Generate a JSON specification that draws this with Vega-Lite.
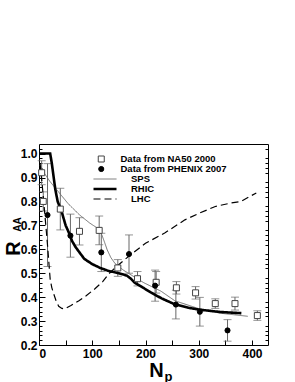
{
  "$schema": "https://vega.github.io/schema/vega-lite/v6.json",
  "width": 229,
  "height": 201,
  "autosize": {"type": "none"},
  "padding": {"left": 39, "top": 144, "right": 27, "bottom": 37},
  "config": {
    "font": "Liberation Sans",
    "view": {"stroke": "black", "strokeWidth": 1},
    "axis": {"domain": false, "grid": false, "tickColor": "black", "labelColor": "black", "titleColor": "black", "labelFont": "Liberation Sans", "titleFont": "Liberation Sans", "labelFontWeight": "bold", "titleFontWeight": "bold", "labelFontSize": 12},
    "legend": {"labelFont": "Liberation Sans", "labelFontWeight": "bold", "labelFontSize": 9.5, "labelColor": "black", "padding": 0, "rowPadding": 0, "clipHeight": 10, "title": null}
  },
  "datasets": {
    "pts": [
      {"series": "Data from NA50 2000", "Np": 5, "RAA": 0.92, "lo": 0.87, "hi": 0.97},
      {"series": "Data from NA50 2000", "Np": 8, "RAA": 0.8, "lo": 0.76, "hi": 0.84},
      {"series": "Data from NA50 2000", "Np": 40, "RAA": 0.768, "lo": 0.681, "hi": 0.855},
      {"series": "Data from NA50 2000", "Np": 76, "RAA": 0.675, "lo": 0.618, "hi": 0.732},
      {"series": "Data from NA50 2000", "Np": 113, "RAA": 0.679, "lo": 0.619, "hi": 0.739},
      {"series": "Data from NA50 2000", "Np": 148, "RAA": 0.522, "lo": 0.487, "hi": 0.557},
      {"series": "Data from NA50 2000", "Np": 185, "RAA": 0.477, "lo": 0.447, "hi": 0.507},
      {"series": "Data from NA50 2000", "Np": 220, "RAA": 0.462, "lo": 0.417, "hi": 0.507},
      {"series": "Data from NA50 2000", "Np": 258, "RAA": 0.439, "lo": 0.413, "hi": 0.465},
      {"series": "Data from NA50 2000", "Np": 294, "RAA": 0.418, "lo": 0.392, "hi": 0.444},
      {"series": "Data from NA50 2000", "Np": 331, "RAA": 0.373, "lo": 0.353, "hi": 0.393},
      {"series": "Data from NA50 2000", "Np": 368, "RAA": 0.373, "lo": 0.346, "hi": 0.4},
      {"series": "Data from NA50 2000", "Np": 410, "RAA": 0.323, "lo": 0.303, "hi": 0.343},
      {"series": "Data from PHENIX 2007", "Np": 16, "RAA": 0.743, "lo": 0.528, "hi": 0.958},
      {"series": "Data from PHENIX 2007", "Np": 59, "RAA": 0.657, "lo": 0.567, "hi": 0.747},
      {"series": "Data from PHENIX 2007", "Np": 117, "RAA": 0.587, "lo": 0.507, "hi": 0.667},
      {"series": "Data from PHENIX 2007", "Np": 169, "RAA": 0.58, "lo": 0.5, "hi": 0.66},
      {"series": "Data from PHENIX 2007", "Np": 218, "RAA": 0.448, "lo": 0.383, "hi": 0.513},
      {"series": "Data from PHENIX 2007", "Np": 257, "RAA": 0.369, "lo": 0.309, "hi": 0.429},
      {"series": "Data from PHENIX 2007", "Np": 302, "RAA": 0.339, "lo": 0.279, "hi": 0.399},
      {"series": "Data from PHENIX 2007", "Np": 354, "RAA": 0.261, "lo": 0.216, "hi": 0.306}
    ],
    "curves": [
      {"model": "SPS", "Np": 2, "RAA": 0.95},
      {"model": "SPS", "Np": 10, "RAA": 0.918},
      {"model": "SPS", "Np": 20, "RAA": 0.885},
      {"model": "SPS", "Np": 38, "RAA": 0.836},
      {"model": "SPS", "Np": 55, "RAA": 0.79},
      {"model": "SPS", "Np": 76, "RAA": 0.744},
      {"model": "SPS", "Np": 95, "RAA": 0.71},
      {"model": "SPS", "Np": 112, "RAA": 0.685},
      {"model": "SPS", "Np": 118, "RAA": 0.66},
      {"model": "SPS", "Np": 123, "RAA": 0.63},
      {"model": "SPS", "Np": 128, "RAA": 0.598},
      {"model": "SPS", "Np": 135, "RAA": 0.565},
      {"model": "SPS", "Np": 143, "RAA": 0.54},
      {"model": "SPS", "Np": 159, "RAA": 0.512},
      {"model": "SPS", "Np": 175, "RAA": 0.49},
      {"model": "SPS", "Np": 197, "RAA": 0.46},
      {"model": "SPS", "Np": 229, "RAA": 0.425},
      {"model": "SPS", "Np": 255, "RAA": 0.385},
      {"model": "SPS", "Np": 300, "RAA": 0.352},
      {"model": "SPS", "Np": 340, "RAA": 0.333},
      {"model": "SPS", "Np": 392, "RAA": 0.32},
      {"model": "RHIC", "Np": 0, "RAA": 1.0},
      {"model": "RHIC", "Np": 21, "RAA": 1.0},
      {"model": "RHIC", "Np": 24, "RAA": 0.96},
      {"model": "RHIC", "Np": 27, "RAA": 0.91},
      {"model": "RHIC", "Np": 30.6, "RAA": 0.851},
      {"model": "RHIC", "Np": 35, "RAA": 0.8},
      {"model": "RHIC", "Np": 43, "RAA": 0.754},
      {"model": "RHIC", "Np": 50, "RAA": 0.7},
      {"model": "RHIC", "Np": 56, "RAA": 0.67},
      {"model": "RHIC", "Np": 62, "RAA": 0.635},
      {"model": "RHIC", "Np": 69, "RAA": 0.608},
      {"model": "RHIC", "Np": 85, "RAA": 0.56},
      {"model": "RHIC", "Np": 100, "RAA": 0.538},
      {"model": "RHIC", "Np": 115, "RAA": 0.522},
      {"model": "RHIC", "Np": 130, "RAA": 0.51},
      {"model": "RHIC", "Np": 150, "RAA": 0.5},
      {"model": "RHIC", "Np": 165, "RAA": 0.49},
      {"model": "RHIC", "Np": 172, "RAA": 0.478},
      {"model": "RHIC", "Np": 180, "RAA": 0.46},
      {"model": "RHIC", "Np": 195, "RAA": 0.44},
      {"model": "RHIC", "Np": 210, "RAA": 0.42},
      {"model": "RHIC", "Np": 230, "RAA": 0.395},
      {"model": "RHIC", "Np": 255, "RAA": 0.37},
      {"model": "RHIC", "Np": 280, "RAA": 0.356},
      {"model": "RHIC", "Np": 300, "RAA": 0.348},
      {"model": "RHIC", "Np": 340, "RAA": 0.338},
      {"model": "RHIC", "Np": 380, "RAA": 0.333},
      {"model": "LHC", "Np": 2, "RAA": 0.96},
      {"model": "LHC", "Np": 6, "RAA": 0.87},
      {"model": "LHC", "Np": 10, "RAA": 0.77},
      {"model": "LHC", "Np": 14, "RAA": 0.67},
      {"model": "LHC", "Np": 17, "RAA": 0.59},
      {"model": "LHC", "Np": 19, "RAA": 0.53},
      {"model": "LHC", "Np": 21, "RAA": 0.475},
      {"model": "LHC", "Np": 24, "RAA": 0.44},
      {"model": "LHC", "Np": 27, "RAA": 0.418},
      {"model": "LHC", "Np": 32, "RAA": 0.385},
      {"model": "LHC", "Np": 37, "RAA": 0.362},
      {"model": "LHC", "Np": 43, "RAA": 0.353},
      {"model": "LHC", "Np": 48, "RAA": 0.351},
      {"model": "LHC", "Np": 60, "RAA": 0.365},
      {"model": "LHC", "Np": 75, "RAA": 0.385},
      {"model": "LHC", "Np": 88, "RAA": 0.405},
      {"model": "LHC", "Np": 105, "RAA": 0.435},
      {"model": "LHC", "Np": 120, "RAA": 0.466},
      {"model": "LHC", "Np": 130, "RAA": 0.495},
      {"model": "LHC", "Np": 145, "RAA": 0.527},
      {"model": "LHC", "Np": 160, "RAA": 0.555},
      {"model": "LHC", "Np": 172, "RAA": 0.577},
      {"model": "LHC", "Np": 200, "RAA": 0.625},
      {"model": "LHC", "Np": 236, "RAA": 0.668},
      {"model": "LHC", "Np": 274, "RAA": 0.723},
      {"model": "LHC", "Np": 300, "RAA": 0.75},
      {"model": "LHC", "Np": 331, "RAA": 0.779},
      {"model": "LHC", "Np": 360, "RAA": 0.793},
      {"model": "LHC", "Np": 379, "RAA": 0.8},
      {"model": "LHC", "Np": 395, "RAA": 0.82},
      {"model": "LHC", "Np": 408, "RAA": 0.835}
    ]
  },
  "resolve": {"axis": {"x": "independent", "y": "independent"}},
  "layer": [
    {
      "data": {"name": "pts"},
      "mark": {"type": "rule", "color": "#666", "strokeWidth": 1},
      "encoding": {
        "x": {"field": "Np", "type": "quantitative", "scale": {"domain": [0, 430], "nice": false, "zero": false},
          "axis": {"orient": "bottom", "values": [0, 50, 100, 150, 200, 250, 300, 350, 400], "labelExpr": "datum.value % 100 == 0 ? datum.label : ''", "tickSize": -5, "labelPadding": 8, "title": "N", "titleFontSize": 20, "titleX": 117, "titleY": 31, "titleAlign": "center", "titleBaseline": "alphabetic"}},
        "y": {"field": "lo", "type": "quantitative", "scale": {"domain": [0.2, 1.04], "nice": false, "zero": false},
          "axis": {"orient": "left", "values": [0.2, 0.3, 0.4, 0.5, 0.6, 0.7, 0.8, 0.9, 1.0], "format": ".1f", "tickSize": -6, "labelPadding": 8, "title": "R", "titleFontSize": 20, "titleAngle": -90, "titleX": -20, "titleY": 104, "titleAlign": "center", "titleBaseline": "alphabetic"}},
        "y2": {"field": "hi"}
      }
    },
    {
      "data": {"name": "pts"},
      "layer": [
        {"mark": {"type": "tick", "orient": "horizontal", "size": 8, "thickness": 1, "color": "#666"},
         "encoding": {
          "x": {"field": "Np", "type": "quantitative", "axis": {"orient": "top", "values": [0, 50, 100, 150, 200, 250, 300, 350, 400], "labels": false, "tickSize": -5, "title": null}},
          "y": {"field": "lo", "type": "quantitative", "axis": {"orient": "right", "values": [0.2, 0.3, 0.4, 0.5, 0.6, 0.7, 0.8, 0.9, 1.0], "labels": false, "tickSize": -6, "title": null}}
         }},
        {"mark": {"type": "tick", "orient": "horizontal", "size": 8, "thickness": 1, "color": "#666"},
         "encoding": {
          "x": {"field": "Np", "type": "quantitative", "axis": null},
          "y": {"field": "hi", "type": "quantitative", "axis": null}
         }}
      ]
    },
    {
      "data": {"name": "curves"},
      "mark": {"type": "line", "clip": true},
      "encoding": {
        "x": {"field": "Np", "type": "quantitative", "axis": {"orient": "bottom", "ticks": false, "labels": false, "title": "p", "titleFontSize": 13, "titleX": 129, "titleY": 35, "titleAlign": "center", "titleBaseline": "alphabetic"}},
        "y": {"field": "RAA", "type": "quantitative", "axis": {"orient": "left", "values": [0.22, 0.24, 0.26, 0.28, 0.32, 0.34, 0.36, 0.38, 0.42, 0.44, 0.46, 0.48, 0.52, 0.54, 0.56, 0.58, 0.62, 0.64, 0.66, 0.68, 0.72, 0.74, 0.76, 0.78, 0.82, 0.84, 0.86, 0.88, 0.92, 0.94, 0.96, 0.98, 1.02], "labels": false, "tickSize": -3, "title": "AA", "titleFontSize": 10, "titleAngle": -90, "titleX": -19, "titleY": 80, "titleAlign": "center", "titleBaseline": "alphabetic"}},
        "color": {"field": "model", "type": "nominal", "scale": {"domain": ["SPS", "RHIC", "LHC"], "range": ["#707070", "black", "black"]},
          "legend": {"orient": "none", "legendX": 53, "legendY": 30, "symbolType": "stroke", "symbolSize": 529, "labelOffset": 13}},
        "strokeWidth": {"field": "model", "type": "nominal", "scale": {"type": "ordinal", "domain": ["SPS", "RHIC", "LHC"], "range": [1, 2.6, 1.2]}},
        "strokeDash": {"field": "model", "type": "nominal", "scale": {"domain": ["SPS", "RHIC", "LHC"], "range": [[1, 0], [1, 0], [7, 4]]}}
      }
    },
    {
      "data": {"name": "pts"},
      "mark": {"type": "point", "strokeWidth": 1, "opacity": 1},
      "encoding": {
        "x": {"field": "Np", "type": "quantitative", "axis": null},
        "y": {"field": "RAA", "type": "quantitative", "axis": {"orient": "right", "values": [0.22, 0.24, 0.26, 0.28, 0.32, 0.34, 0.36, 0.38, 0.42, 0.44, 0.46, 0.48, 0.52, 0.54, 0.56, 0.58, 0.62, 0.64, 0.66, 0.68, 0.72, 0.74, 0.76, 0.78, 0.82, 0.84, 0.86, 0.88, 0.92, 0.94, 0.96, 0.98, 1.02], "labels": false, "tickSize": -3, "title": null}},
        "shape": {"field": "series", "type": "nominal", "scale": {"domain": ["Data from NA50 2000", "Data from PHENIX 2007"], "range": ["square", "circle"]},
          "legend": {"orient": "none", "legendX": 57.5, "legendY": 10, "labelOffset": 14.5, "symbolStrokeWidth": 1}},
        "fill": {"field": "series", "type": "nominal", "scale": {"domain": ["Data from NA50 2000", "Data from PHENIX 2007"], "range": ["white", "black"]}},
        "stroke": {"field": "series", "type": "nominal", "scale": {"domain": ["Data from NA50 2000", "Data from PHENIX 2007"], "range": ["#444", "black"]}},
        "size": {"field": "series", "type": "nominal", "scale": {"type": "ordinal", "domain": ["Data from NA50 2000", "Data from PHENIX 2007"], "range": [36, 26]}}
      }
    }
  ]
}
